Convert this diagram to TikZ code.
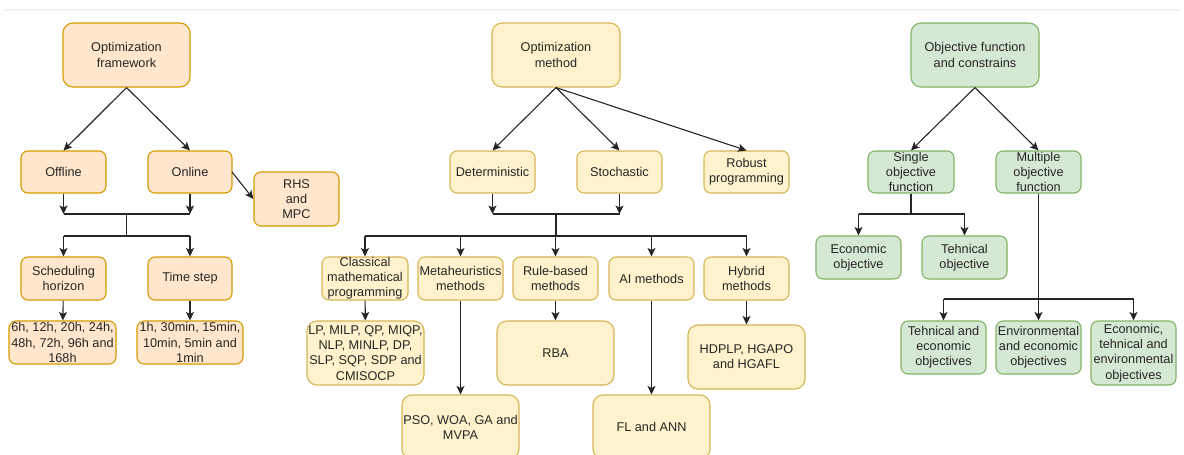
\documentclass[tikz,border=0pt]{standalone}
\usepackage{fontspec}
\setmainfont{Liberation Sans}
\usetikzlibrary{arrows.meta}
\definecolor{ofill}{HTML}{FFE6CC}\definecolor{odraw}{HTML}{D79B00}
\definecolor{yfill}{HTML}{FFF2CC}\definecolor{ydraw}{HTML}{D6B656}
\definecolor{gfill}{HTML}{D5E8D4}\definecolor{gdraw}{HTML}{82B366}
\definecolor{txt}{HTML}{262626}\definecolor{lnc}{HTML}{262626}
\tikzset{
  box/.style={rounded corners=7pt, line width=1.1pt, align=center, inner sep=0pt,
    text=txt, font=\fontsize{12.7pt}{15.2pt}\selectfont},
  obox/.style={box, fill=ofill, draw=odraw},
  ybox/.style={box, fill=yfill, draw=ydraw},
  gbox/.style={box, fill=gfill, draw=gdraw},
  sz/.style 2 args={minimum width=#1pt, minimum height=#2pt},
  ln/.style={draw=lnc, line width=1.1pt},
  arr/.style={ln, -{Stealth[length=8.5pt,width=8pt,inset=2pt]}},
}
\begin{document}
\begin{tikzpicture}[x=1pt,y=-1pt]
\useasboundingbox (0,0) rectangle (1184,455);
\clip (0,0) rectangle (1184,455);
\fill[white] (0,0) rectangle (1184,455);
\draw[black!5, line width=1.5pt] (3,10) -- (1180,10);

% ---------- left group
\node[obox, sz={127}{64}, rounded corners=10pt] (fw) at (126.5,55) {Optimization\\framework};
\node[obox, sz={85}{42}] (off) at (63.5,172) {Offline};
\node[obox, sz={84}{42}] (on) at (190,172) {Online};
\node[obox, sz={85}{54}] (rhs) at (296.5,199) {RHS\\and\\MPC};
\node[obox, sz={85}{43}] (sh) at (63.5,278.5) {Scheduling\\horizon};
\node[obox, sz={84}{43}] (ts) at (190,278.5) {Time step};
\node[obox, sz={107}{43}] (hr) at (62.5,342.5) {6h, 12h, 20h, 24h,\\48h, 72h, 96h and\\168h};
\node[obox, sz={106}{43}] (mn) at (190,342.5) {1h, 30min, 15min,\\10min, 5min and\\1min};

\draw[arr] (fw.south) -- (off.north);
\draw[arr] (fw.south) -- (on.north);
\coordinate (onr) at (232,172);
\draw[arr] (onr) -- (rhs.west);
\coordinate (b1) at (126.5,214);
\coordinate (b2) at (126.5,236);
\draw[arr] (off) -- (off |- b1);
\draw[arr] (on) -- (on |- b1);
\draw[ln] (off |- b1) -- (on |- b1);
\draw[ln] (b1) -- (b2);
\draw[ln] (sh |- b2) -- (ts |- b2);
\draw[arr] (sh |- b2) -- (sh);
\draw[arr] (ts |- b2) -- (ts);
\draw[arr] (sh) -- (hr);
\draw[arr] (ts) -- (mn);

% ---------- middle group
\node[ybox, sz={128}{64}, rounded corners=10pt] (om) at (556,55) {Optimization\\method};
\node[ybox, sz={85}{42}] (det) at (492.5,172) {Deterministic};
\node[ybox, sz={85}{42}] (sto) at (619.5,172) {Stochastic};
\node[ybox, sz={85}{42}] (rob) at (746.5,172) {Robust\\programming};
\node[ybox, sz={86}{43}] (cmp) at (365,278.5) {Classical\\mathematical\\programming};
\node[ybox, sz={85}{43}] (meta) at (460.5,278.5) {Metaheuristics\\methods};
\node[ybox, sz={85}{43}] (rule) at (555.5,278.5) {Rule-based\\methods};
\node[ybox, sz={85}{43}] (ai) at (651.5,278.5) {AI methods};
\node[ybox, sz={85}{43}] (hyb) at (746.5,278.5) {Hybrid\\methods};
\node[ybox, sz={117}{64}, rounded corners=10pt] (lp) at (365.5,353) {LP, MILP, QP, MIQP,\\NLP, MINLP, DP,\\SLP, SQP, SDP and\\CMISOCP};
\node[ybox, sz={117}{64}, rounded corners=10pt] (pso) at (460.5,427) {PSO, WOA, GA and\\MVPA};
\node[ybox, sz={117}{64}, rounded corners=10pt] (rba) at (555.5,353) {RBA};
\node[ybox, sz={117}{64}, rounded corners=10pt] (fl) at (651.5,427) {FL and ANN};
\node[ybox, sz={117}{64}, rounded corners=10pt] (hd) at (746.5,357) {HDPLP, HGAPO\\and HGAFL};

\draw[arr] (om.south) -- (det.north);
\draw[arr] (om.south) -- (sto.north);
\draw[arr] (om.south) -- (rob.north);
\coordinate (b3) at (556,214);
\coordinate (b4) at (556,236);
\draw[arr] (det) -- (det |- b3);
\draw[arr] (sto) -- (sto |- b3);
\draw[ln] (det |- b3) -- (sto |- b3);
\draw[ln] (b3) -- (b4);
\draw[ln] (cmp |- b4) -- (hyb |- b4);
\foreach \n in {cmp,meta,rule,ai,hyb} \draw[arr] (\n |- b4) -- (\n);
\draw[arr] (cmp) -- (lp);
\draw[arr] (meta) -- (pso);
\draw[arr] (rule) -- (rba);
\draw[arr] (ai) -- (fl);
\draw[arr] (hyb) -- (hd);

% ---------- right group
\node[gbox, sz={128}{64}, rounded corners=10pt] (ofc) at (975,55) {Objective function\\and constrains};
\node[gbox, sz={86}{42}] (sof) at (911,172) {Single\\objective\\function};
\node[gbox, sz={85}{42}] (mof) at (1038.5,172) {Multiple\\objective\\function};
\node[gbox, sz={85}{43}] (eco) at (858.5,257.5) {Economic\\objective};
\node[gbox, sz={85}{43}] (teh) at (964.5,257.5) {Tehnical\\objective};
\node[gbox, sz={85}{53}] (te) at (943.5,347.5) {Tehnical and\\economic\\objectives};
\node[gbox, sz={85}{53}] (ee) at (1038.5,347.5) {Environmental\\and economic\\objectives};
\node[gbox, sz={85}{64}] (ete) at (1133.5,353) {Economic,\\tehnical and\\environmental\\objectives};

\draw[arr] (ofc.south) -- (sof.north);
\draw[arr] (ofc.south) -- (mof.north);
\coordinate (b5) at (911,214);
\draw[ln] (sof) -- (b5);
\draw[ln] (eco |- b5) -- (teh |- b5);
\draw[arr] (eco |- b5) -- (eco);
\draw[arr] (teh |- b5) -- (teh);
\coordinate (b6) at (1038.5,299);
\draw[arr] (mof) -- (ee);
\draw[ln] (te |- b6) -- (ete |- b6);
\draw[arr] (te |- b6) -- (te);
\draw[arr] (ete |- b6) -- (ete);
\end{tikzpicture}
\end{document}
